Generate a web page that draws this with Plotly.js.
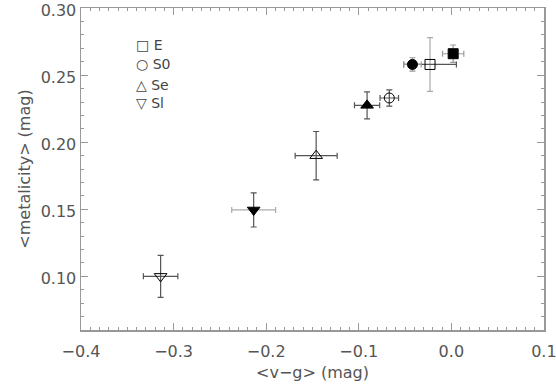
<!DOCTYPE html>
<html>
<head>
<meta charset="utf-8">
<script src="https://cdn.plot.ly/plotly-3.0.1.min.js"></script>
<style>
  html, body { margin: 0; padding: 0; background: #fff; }
  #chart { width: 556px; height: 387px; }
</style>
</head>
<body>
<div id="chart"></div>
<script>
// Morphological types, mean colour vs mean metallicity
const point_names = ['E (filled)', 'E', 'S0 (filled)', 'S0', 'Se (filled)', 'Se', 'Sl (filled)', 'Sl'];
const vg_vals     = [0.002, -0.023, -0.042, -0.067, -0.091, -0.146, -0.2135, -0.314];
const metal_vals  = [0.266, 0.258, 0.258, 0.233, 0.2275, 0.190, 0.1495, 0.100];
const vg_errs     = [0.0115, 0.0285, 0.0095, 0.010, 0.0136, 0.0227, 0.0237, 0.0186];
const metal_errs  = [0.0065, 0.020, 0.005, 0.006, 0.010, 0.018, 0.0127, 0.0156];
const symbols     = ['square', 'square-open', 'circle', 'circle-open',
                     'triangle-up', 'triangle-up-open', 'triangle-down', 'triangle-down-open'];
const xbar_colors = ['#999', '#555', '#999', '#555', '#555', '#555', '#aaa', '#555'];
const ybar_colors = ['#999', '#aaa', '#999', '#555', '#555', '#555', '#555', '#555'];

const x_ticks = [-0.4, -0.3, -0.2, -0.1, 0.0, 0.1];
const y_ticks = [0.10, 0.15, 0.20, 0.25, 0.30];

const legend_labels = ['\u25A1 E', '\u25CB S0', '\u25B3 Se', '\u25BD Sl'];
const legend_y      = [0.2725, 0.258, 0.2428, 0.229];

const text_font = 'DejaVu Sans ExtraLight, DejaVu Sans, sans-serif'

let traces = []
for (let i = 0; i < vg_vals.length; i++) {
	traces.push({
		type: 'scatter',
		mode: 'markers',
		name: point_names[i],
		x: [vg_vals[i]],
		y: [metal_vals[i]],
		error_x: {type: 'data', array: [vg_errs[i]], color: xbar_colors[i], thickness: 1.2, width: 3},
		error_y: {type: 'data', array: [metal_errs[i]], color: ybar_colors[i], thickness: 1.2, width: 3},
		marker: {
			symbol: symbols[i],
			size: symbols[i].startsWith('triangle') ? 11 : 10,
			color: '#000',
			line: {color: '#000', width: 1}
		},
		showlegend: false
	})
}

let annotations = []
for (let i = 0; i < legend_labels.length; i++) {
	annotations.push({
		x: -0.343, y: legend_y[i], xref: 'x', yref: 'y',
		text: legend_labels[i], showarrow: false, xanchor: 'left',
		font: {family: text_font, size: 14, color: '#444'}
	})
}

const axis_common = {
	showline: true,
	linecolor: '#999',
	linewidth: 1.5,
	mirror: 'ticks',
	ticks: 'inside',
	ticklen: 7,
	tickcolor: '#999',
	showgrid: false,
	zeroline: false,
	ticklabeloverflow: 'allow',
	tickfont: {family: text_font, size: 16, color: '#555'}
}

let layout = {
	width: 556,
	height: 387,
	margin: {t: 8, b: 57, l: 81, r: 12},
	paper_bgcolor: '#fff',
	plot_bgcolor: '#fff',
	xaxis: Object.assign({}, axis_common, {
		range: [-0.4, 0.1001],
		tickmode: 'array',
		tickvals: x_ticks,
		ticktext: x_ticks.map(v => v.toFixed(1).replace('-', '\u2212')),
		ticklabelstandoff: 6,
		minor: {ticks: 'inside', ticklen: 3, dtick: 0.01, tickcolor: '#999'},
		title: {text: '<v\u2212g> (mag)', font: {family: text_font, size: 16, color: '#555'}, standoff: 7}
	}),
	yaxis: Object.assign({}, axis_common, {
		range: [0.06, 0.3001],
		tickmode: 'array',
		tickvals: y_ticks,
		ticktext: y_ticks.map(v => v.toFixed(2)),
		ticklabelshift: 2,
		minor: {ticks: 'inside', ticklen: 3, dtick: 0.01, tickcolor: '#999'},
		title: {text: '<metalicity> (mag)', font: {family: text_font, size: 16, color: '#555'}, standoff: 6}
	}),
	annotations: annotations
}

Plotly.newPlot('chart', traces, layout, {displayModeBar: false, staticPlot: true})
</script>
</body>
</html>
